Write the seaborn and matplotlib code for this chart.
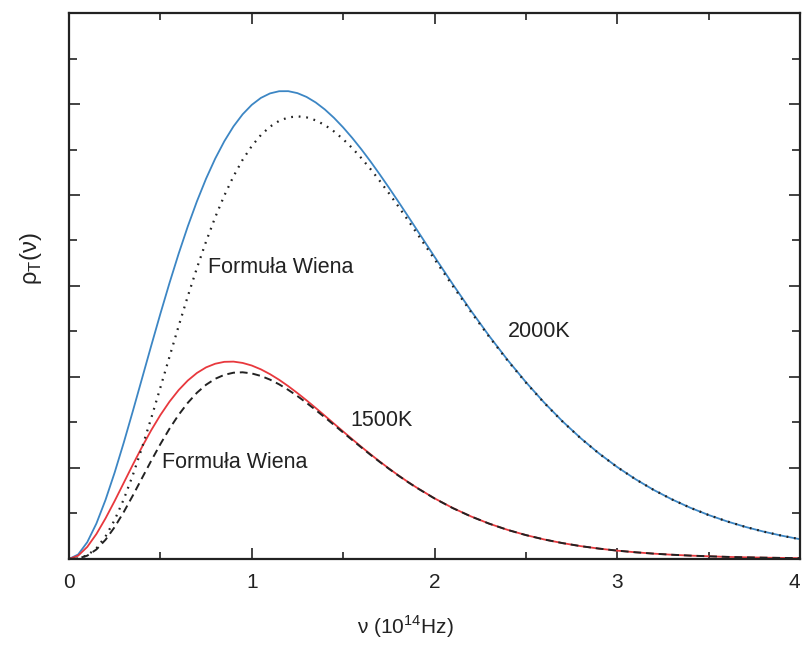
import numpy as np
import pandas as pd
import matplotlib
matplotlib.use("Agg")
import matplotlib.pyplot as plt
from matplotlib.ticker import MultipleLocator
import seaborn as sns

# frequency (10^14 Hz) and spectral density readings (arbitrary units)
nu = [0.0, 0.05, 0.1, 0.15, 0.2, 0.25, 0.3, 0.35, 0.4, 0.45, 0.5, 0.55,
      0.6, 0.65, 0.7, 0.75, 0.8, 0.85, 0.9, 0.95, 1.0, 1.05, 1.1, 1.15,
      1.2, 1.25, 1.3, 1.35, 1.4, 1.45, 1.5, 1.55, 1.6, 1.65, 1.7, 1.75,
      1.8, 1.85, 1.9,
      2.0, 2.1, 2.2, 2.3, 2.4, 2.5, 2.6, 2.7, 2.8, 2.9, 3.0,
      3.1, 3.2, 3.3, 3.4, 3.5, 3.6, 3.7, 3.8, 3.9, 4.0]

planck_2000 = [0.0, 0.098, 0.369, 0.779, 1.299, 1.901, 2.561, 3.258, 3.972,
               4.687, 5.389, 6.066, 6.709, 7.309, 7.860, 8.358, 8.799, 9.182,
               9.507, 9.773, 9.981, 10.134, 10.233, 10.281, 10.282, 10.239,
               10.155, 10.034, 9.880, 9.696, 9.486, 9.254, 9.003, 8.736,
               8.455, 8.165, 7.867, 7.564, 7.257,
               6.643, 6.039, 5.455, 4.898, 4.374, 3.887, 3.438, 3.027, 2.655,
               2.320, 2.020, 1.753, 1.516, 1.308, 1.125, 0.966, 0.827, 0.706,
               0.602, 0.512, 0.434]

wien_2000 = [0.0, 0.011, 0.079, 0.235, 0.495, 0.858, 1.314, 1.851, 2.451,
             3.095, 3.766, 4.445, 5.119, 5.772, 6.394, 6.976, 7.509, 7.988,
             8.410, 8.773, 9.075, 9.318, 9.502, 9.630, 9.705, 9.729, 9.706,
             9.641, 9.537, 9.397, 9.227, 9.030, 8.809, 8.569, 8.312, 8.042,
             7.762, 7.474, 7.181,
             6.589, 6.000, 5.427, 4.878, 4.360, 3.877, 3.431, 3.022, 2.652,
             2.317, 2.018, 1.752, 1.516, 1.308, 1.125, 0.965, 0.827, 0.706,
             0.602, 0.512, 0.434]

planck_1500 = [0.0, 0.072, 0.265, 0.548, 0.893, 1.275, 1.676, 2.077, 2.465,
               2.830, 3.163, 3.458, 3.712, 3.922, 4.088, 4.211, 4.291, 4.333,
               4.338, 4.309, 4.252, 4.168, 4.062, 3.938, 3.798, 3.646, 3.486,
               3.319, 3.148, 2.975, 2.803, 2.632, 2.464, 2.301, 2.143, 1.991,
               1.845, 1.706, 1.575,
               1.333, 1.120, 0.935, 0.775, 0.640, 0.525, 0.429, 0.349, 0.282,
               0.228, 0.183, 0.147, 0.117, 0.093, 0.074, 0.059, 0.046, 0.037,
               0.029, 0.023, 0.018]

wien_1500 = [0.0, 0.011, 0.073, 0.209, 0.422, 0.702, 1.034, 1.399, 1.780,
             2.159, 2.524, 2.863, 3.168, 3.432, 3.653, 3.829, 3.960, 4.047,
             4.094, 4.103, 4.078, 4.023, 3.942, 3.838, 3.716, 3.580, 3.431,
             3.274, 3.112, 2.947, 2.780, 2.614, 2.450, 2.289, 2.134, 1.984,
             1.839, 1.702, 1.571,
             1.330, 1.118, 0.934, 0.775, 0.639, 0.525, 0.429, 0.349, 0.282,
             0.228, 0.183, 0.147, 0.117, 0.093, 0.074, 0.059, 0.046, 0.037,
             0.029, 0.023, 0.018]

df = pd.DataFrame({"nu": nu, "p2000": planck_2000, "w2000": wien_2000,
                   "p1500": planck_1500, "w1500": wien_1500})

sns.set_style("ticks")
plt.rcParams["font.family"] = ["Liberation Sans", "DejaVu Sans"]
plt.rcParams["mathtext.fontset"] = "custom"
plt.rcParams["mathtext.rm"] = "Liberation Sans"

fig = plt.figure(figsize=(8.03, 6.57), dpi=100)
ax = fig.add_axes([0.0859, 0.1492, 0.9104, 0.831])

sns.lineplot(data=df, x="nu", y="p2000", ax=ax, color="#3c86c4", lw=1.3)
sns.lineplot(data=df, x="nu", y="p1500", ax=ax, color="#e8383d", lw=1.3)
sns.lineplot(data=df, x="nu", y="w2000", ax=ax, color="#222222", lw=1.6,
             linestyle=(0, (0.8, 2.6)))
sns.lineplot(data=df, x="nu", y="w1500", ax=ax, color="#222222", lw=1.4,
             linestyle=(0, (4, 2.5)))

ax.set_xlim(0, 4)
ax.set_ylim(0, 12)
ax.xaxis.set_major_locator(MultipleLocator(1))
ax.xaxis.set_minor_locator(MultipleLocator(0.5))
ax.yaxis.set_major_locator(MultipleLocator(2))
ax.yaxis.set_minor_locator(MultipleLocator(1))
ax.set_yticklabels([])
ax.tick_params(which="both", direction="in", top=True, right=True,
               width=1.2, colors="#222222")
ax.tick_params(which="major", length=8, labelsize=15, pad=10)
ax.tick_params(which="minor", length=5)
ax.tick_params(axis="y", which="major", length=8)
ax.tick_params(axis="y", which="minor", length=6)
for s in ax.spines.values():
    s.set_linewidth(1.6)
    s.set_color("#222222")

ax.set_xticks([0, 1, 2, 3, 4])
ax.set_xticklabels(["0", "1", "2", "3", "4"])
ax.get_xticklabels()[-1].set_horizontalalignment("right")

ax.set_xlabel(r"ν (10$^\mathregular{14}$Hz)", fontsize=15, color="#222222")
ax.xaxis.set_label_coords(0.46, -0.1)
ax.set_ylabel(r"ρ$_\mathregular{T}$(ν)", fontsize=17, color="#222222")
ax.yaxis.set_label_coords(-0.034, 0.55)

txt = dict(fontsize=15.5, color="#222222", va="center")
ax.text(0.76, 6.4, "Formuła Wiena", **txt)
ax.text(0.51, 2.11, "Formuła Wiena", **txt)
ax.text(2.40, 4.99, "2000K", **txt)
ax.text(1.54, 3.05, "1500K", **txt)

fig.savefig("out.png", dpi=100)
